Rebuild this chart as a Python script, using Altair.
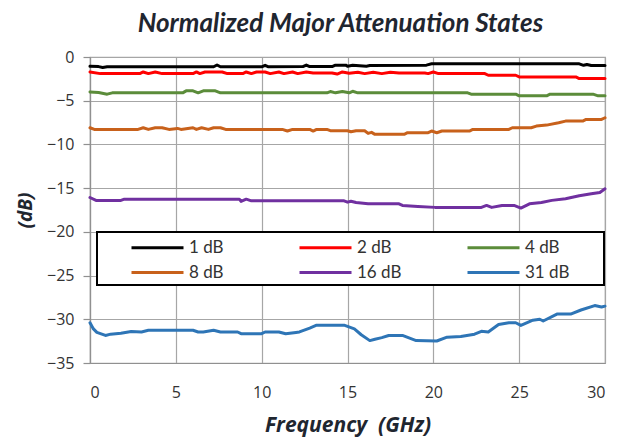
import altair as alt
import pandas as pd

series_names = ["1 dB", "2 dB", "4 dB", "8 dB", "16 dB", "31 dB"]
series_colors = ["#000000", "#ff0000", "#5b8c3a", "#c8611b", "#7030a0", "#2e75b6"]

freq_1 = [0, 0.5, 0.74, 1.0, 7.2, 7.4, 7.6, 10.0, 10.2, 10.4, 12.4, 12.6, 12.8, 14.1, 14.3,
          14.9, 15.0, 15.3, 16.1, 16.3, 19.6, 19.9, 28.5, 28.75, 28.95, 29.2, 30]
db_1 = [-1.07, -1.1, -1.2, -1.12, -1.12, -0.91, -1.12, -1.12, -0.95, -1.12, -1.1, -0.92, -1.1, -1.1, -0.93,
        -0.93, -1.05, -0.95, -1.05, -0.97, -0.93, -0.78, -0.78, -0.95, -0.85, -0.97, -0.97]

freq_2 = [0, 0.6, 2.9, 3.1, 3.4, 3.8, 4.2, 6.0, 6.2, 6.4, 6.7, 7.1, 7.7, 8.0, 8.9,
          9.1, 9.4, 9.7, 10.2, 10.5, 11.0, 11.3, 11.8, 12.1, 12.6, 13.0, 14.1, 14.4, 14.7, 15.1,
          15.6, 16.0, 16.5, 17.0, 17.5, 18.0, 19.5, 19.7, 20.0, 20.3, 23.0, 23.2, 24.8, 25.0, 28.3,
          28.5, 30]
db_2 = [-1.71, -1.9, -1.9, -1.71, -1.9, -1.71, -1.9, -1.9, -1.71, -1.9, -1.71, -1.71, -1.71, -1.9, -1.9,
        -1.71, -1.9, -1.71, -1.71, -1.9, -1.71, -1.9, -1.71, -1.9, -1.71, -1.82, -1.82, -1.95, -1.71, -1.85,
        -1.75, -1.9, -1.75, -1.9, -1.75, -1.82, -1.82, -1.9, -1.71, -1.9, -1.9, -2.09, -2.09, -2.28, -2.28,
        -2.47, -2.47]

freq_4 = [0, 0.5, 1.0, 1.3, 5.4, 5.6, 6.0, 6.3, 6.6, 7.3, 7.6, 13.8, 14.0, 14.3, 14.7,
          15.1, 15.3, 15.6, 22.0, 22.2, 24.8, 25.0, 26.6, 26.8, 29.3, 29.6, 30]
db_4 = [-3.99, -4.07, -4.25, -4.1, -4.1, -3.87, -3.87, -4.1, -3.87, -3.87, -4.1, -4.1, -3.95, -4.1, -3.95,
        -4.1, -3.92, -4.1, -4.1, -4.25, -4.25, -4.44, -4.44, -4.25, -4.25, -4.44, -4.44]

freq_8 = [0, 0.25, 2.8, 3.1, 3.4, 3.8, 4.2, 4.6, 5.1, 5.3, 6.0, 6.2, 6.5, 6.9, 7.2,
          7.6, 7.9, 11.2, 11.5, 11.8, 12.8, 13.0, 13.2, 13.8, 14.0, 15.0, 15.2, 15.5, 16.0, 16.2,
          16.4, 16.6, 18.3, 18.5, 19.7, 19.9, 20.2, 20.5, 22.1, 22.3, 24.4, 24.6, 25.7, 26.0, 26.6,
          27.3, 27.7, 28.7, 28.9, 29.8, 30]
db_8 = [-8.09, -8.28, -8.28, -8.09, -8.28, -8.09, -8.09, -8.28, -8.17, -8.28, -8.09, -8.28, -8.09, -8.28, -8.09,
        -8.09, -8.28, -8.28, -8.47, -8.28, -8.28, -8.47, -8.28, -8.28, -8.43, -8.43, -8.55, -8.43, -8.43, -8.74,
        -8.62, -8.85, -8.85, -8.66, -8.66, -8.47, -8.66, -8.47, -8.47, -8.28, -8.28, -8.09, -8.09, -7.9, -7.79,
        -7.52, -7.33, -7.33, -7.14, -7.14, -6.95]

freq_16 = [0, 0.35, 1.8, 2.0, 8.7, 8.8, 9.1, 9.4, 14.8, 15.0, 15.2, 15.5, 16.2, 18.0, 18.2,
           19.1, 20.1, 22.8, 23.1, 23.4, 24.0, 24.7, 25.1, 25.6, 26.3, 26.9, 27.7, 28.5, 29.2, 29.7, 30]
db_16 = [-16.07, -16.4, -16.4, -16.26, -16.26, -16.52, -16.26, -16.45, -16.45, -16.6, -16.5, -16.65, -16.79, -16.79, -16.98,
         -17.09, -17.2, -17.2, -16.98, -17.2, -16.98, -16.98, -17.28, -16.79, -16.65, -16.4, -16.22, -15.88, -15.65, -15.5, -15.08]

freq_31 = [0, 0.2, 0.4, 0.9, 1.2, 1.8, 2.4, 3.0, 3.4, 6.0, 6.3, 6.6, 7.2, 7.6, 8.6,
           8.8, 10.0, 10.2, 11.0, 11.4, 12.0, 12.2, 12.8, 13.2, 14.8, 15.4, 15.8, 16.3, 16.6, 17.0,
           17.4, 18.2, 19.0, 20.2, 20.8, 21.6, 22.4, 22.8, 23.2, 23.8, 24.4, 24.8, 25.1, 25.8, 26.2,
           26.4, 27.2, 28.0, 28.6, 29.4, 29.8, 30]
db_31 = [-30.4, -31.1, -31.5, -31.85, -31.7, -31.6, -31.4, -31.45, -31.26, -31.26, -31.45, -31.45, -31.26, -31.45, -31.45,
         -31.65, -31.65, -31.45, -31.45, -31.65, -31.5, -31.45, -31.0, -30.67, -30.67, -31.1, -31.77, -32.44, -32.28, -32.1,
         -31.85, -31.85, -32.44, -32.48, -32.05, -31.97, -31.7, -31.38, -31.45, -30.6, -30.4, -30.4, -30.7, -30.1, -30.0,
         -30.2, -29.4, -29.4, -28.94, -28.43, -28.6, -28.5]

x_ticks = [0, 5, 10, 15, 20, 25, 30]
y_ticks = [0, -5, -10, -15, -20, -25, -30, -35]

all_freqs = [freq_1, freq_2, freq_4, freq_8, freq_16, freq_31]
all_dbs = [db_1, db_2, db_4, db_8, db_16, db_31]
rows = []
for name, fs, ds in zip(series_names, all_freqs, all_dbs):
    assert len(fs) == len(ds), name
    for f, d in zip(fs, ds):
        rows.append({"freq": f, "db": d, "state": name})
df = pd.DataFrame(rows)

label_font = "Open Sans"
title_font = "Lato"
pad_spaces = "\u2003" * 2 + "\u00a0" + "\u200b"

chart = alt.Chart(df).mark_line(strokeWidth=3, strokeJoin="round", strokeCap="round").encode(
    x=alt.X("freq:Q", scale=alt.Scale(domain=[0, 30], nice=False, zero=False),
            axis=alt.Axis(values=x_ticks, title="Frequency\u00a0 (GHz)", ticks=False, labelPadding=21,
                          titleY=62, titleBaseline="middle", titleFontSize=21)),
    y=alt.Y("db:Q", scale=alt.Scale(domain=[-35, 0], nice=False, zero=False),
            axis=alt.Axis(values=y_ticks, title="(dB)", tickSize=7, labelPadding=9,
                          titleX=-65, titleY=153, titleAlign="center", titleBaseline="middle",
                          titleAngle=-90, titleFontSize=19)),
    color=alt.Color("state:N", sort=series_names,
                    scale=alt.Scale(domain=series_names, range=series_colors),
                    legend=alt.Legend(title=None, orient="none", legendX=7, legendY=175,
                                      direction="horizontal", columns=3, gridAlign="all",
                                      symbolType="M-2.6,0L2.6,0", symbolSize=400, symbolStrokeWidth=3,
                                      symbolOffset=45, labelOffset=20, columnPadding=5,
                                      rowPadding=5, padding=4,
                                      labelExpr="datum.label + '" + pad_spaces + "'",
                                      labelFont=title_font, labelFontSize=17, labelColor="#333333",
                                      fillColor="white", strokeColor="black")),
    detail="state:N",
).properties(
    width=515, height=306,
    autosize=alt.AutoSizeParams(type="none"),
    padding={"left": 82, "top": 49, "right": 17, "bottom": 80},
    title=alt.TitleParams("Normalized Major Attenuation States", font=title_font, fontSize=26,
                          fontStyle="italic", fontWeight="bold", color="#1f2630", offset=12, dx=-7),
).configure_axis(
    grid=True, gridColor="#a6a6a6", gridWidth=1.2,
    domainColor="#909090", domainWidth=1.2, tickColor="#909090", tickWidth=1.2,
    labelFont=label_font, labelFontSize=16, labelColor="#333333",
    titleFont=label_font, titleFontStyle="italic", titleFontWeight="bold", titleColor="#1f2630",
).configure_view(
    stroke="#a6a6a6", strokeWidth=1.2,
).configure_legend(
    strokeWidth=2,
)

chart.save("out.html", embed_options={"renderer": "svg", "actions": False})
